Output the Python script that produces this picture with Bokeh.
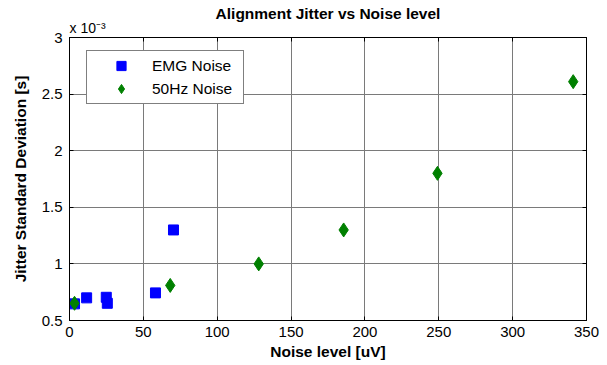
from bokeh.plotting import figure
from bokeh.models import (Range1d, LinearAxis, FixedTicker, CustomJSTickFormatter,
                          Legend, LegendItem, Title)
from bokeh.embed import file_html
from bokeh.resources import INLINE

# Data (jitter in units of 1e-3 s)
emg_x = [3.4, 11.6, 24.9, 25.6, 58.2, 70.4]
emg_y = [0.647, 0.70, 0.705, 0.652, 0.744, 1.30]
hz_x = [3.4, 68.2, 128.1, 185.6, 249.1, 341.0]
hz_y = [0.652, 0.81, 1.00, 1.30, 1.80, 2.61]
x_ticks = [0, 50, 100, 150, 200, 250, 300, 350]
y_ticks = [0.5, 1.0, 1.5, 2.0, 2.5, 3.0]
title_text = "Alignment Jitter vs Noise level"
scale_text = "x 10\u207b\u00b3"
x_label = "Noise level [uV]"
y_label = "Jitter Standard Deviation [s]"
series_names = ["EMG Noise", "50Hz Noise"]

FONT = "Liberation Sans"

p = figure(width=607, height=365, output_backend="svg", toolbar_location=None,
           x_range=Range1d(0, 350), y_range=Range1d(0.5, 3.0), title=None,
           min_border_left=69, min_border_right=21, min_border_top=37,
           min_border_bottom=45)
p.outline_line_color = "black"
p.background_fill_color = "white"
p.border_fill_color = "white"

fmt = CustomJSTickFormatter(code="return tick.toString();")
blank = CustomJSTickFormatter(code="return '';")

for ax in (p.xaxis[0], p.yaxis[0]):
    ax.major_tick_in = 4
    ax.major_tick_out = 0
    ax.minor_tick_line_color = None
    ax.axis_line_color = "black"
    ax.major_tick_line_color = "black"
    ax.major_label_text_font = FONT
    ax.major_label_text_font_size = "15px"
    ax.major_label_text_color = "black"
    ax.axis_label_text_font = FONT
    ax.axis_label_text_font_size = "15.5px"
    ax.axis_label_text_font_style = "bold"
    ax.axis_label_text_color = "black"

p.xaxis[0].ticker = FixedTicker(ticks=x_ticks)
p.yaxis[0].ticker = FixedTicker(ticks=y_ticks)
p.yaxis[0].formatter = fmt
p.xaxis[0].axis_label = x_label
p.yaxis[0].axis_label = y_label
p.xaxis[0].major_label_standoff = 6
p.yaxis[0].major_label_standoff = 7
p.xaxis[0].axis_label_standoff = 3
p.yaxis[0].axis_label_standoff = 10

for loc, ticks in (("right", y_ticks), ("above", x_ticks)):
    ax = LinearAxis(ticker=FixedTicker(ticks=ticks), major_tick_in=4, major_tick_out=0,
                    minor_tick_line_color=None, axis_line_color="black",
                    formatter=blank, major_label_standoff=0)
    p.add_layout(ax, loc)

p.add_layout(Title(text=scale_text, align="left", text_font=FONT,
                   text_font_size="14px", text_font_style="normal",
                   text_color="black", standoff=3), "above")
p.add_layout(Title(text=title_text, align="center", text_font=FONT,
                   text_font_size="15.5px", text_font_style="bold",
                   text_color="black", standoff=-10), "above")

p.xgrid.ticker = FixedTicker(ticks=x_ticks)
p.ygrid.ticker = FixedTicker(ticks=y_ticks)
p.grid.grid_line_color = "#7a7a7a"
p.grid.grid_line_width = 1

r1 = p.scatter(emg_x, emg_y, marker="square", size=10, fill_color="#0000FF",
               line_color="#0000FF")
r2 = p.scatter(hz_x, hz_y, marker="diamond", size=14, fill_color="#008000",
               line_color="#008000")

legend = Legend(items=[LegendItem(label=series_names[0], renderers=[r1]),
                       LegendItem(label=series_names[1], renderers=[r2])],
                location=(17, 216), padding=3, spacing=0, glyph_width=62,
                glyph_height=23, label_standoff=0, label_width=88,
                label_height=23,
                label_text_font=FONT, label_text_font_size="15.5px",
                label_text_color="black", border_line_color="black",
                border_line_width=1, background_fill_color="white",
                background_fill_alpha=1.0, margin=0)
p.add_layout(legend, "center")

open("out.html", "w").write(file_html(p, INLINE))
